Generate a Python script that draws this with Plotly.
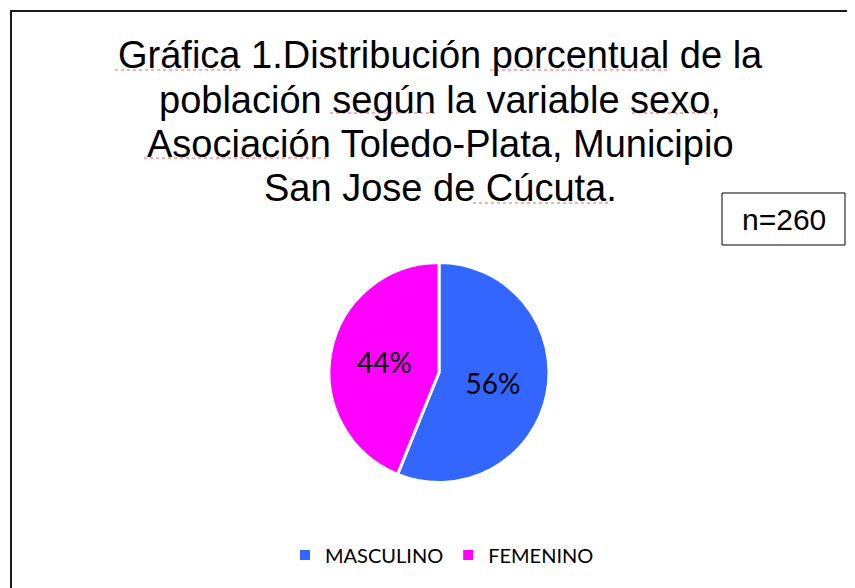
import plotly.graph_objects as go

# ---- data ----
categories = ["MASCULINO", "FEMENINO"]
counts = [146, 114]          # n = 260 -> 56% / 44%
colors = ["#3366FF", "#FF00FF"]
title_lines = [
    "Gráfica 1.Distribución porcentual de la",
    "población según la variable sexo,",
    "Asociación Toledo-Plata, Municipio",
    "San Jose de Cúcuta.",
]
n_label = "n=260"

# page is 855x588; the HTML body has an 8px margin, so the figure is 847x580
OFF = 8
W, H = 855 - OFF, 588 - OFF

def px_x(x):
    return (x - OFF) / W

def px_y(y):
    return 1 - (y - OFF) / H

fig = go.Figure()
fig.add_trace(go.Pie(
    labels=categories,
    values=counts,
    sort=False,
    direction="clockwise",
    rotation=0,
    marker=dict(colors=colors, line=dict(color="white", width=3)),
    textinfo="percent",
    texttemplate="%{percent:.0%}",
    textposition="inside",
    insidetextorientation="horizontal",
    textfont=dict(family="Lato, Open Sans, sans-serif", size=28, color="black"),
    domain=dict(x=[px_x(329), px_x(549)], y=[px_y(483), px_y(262)]),
    hoverinfo="label+percent",
))

annotations = []
line_centers = [55, 99.5, 144, 188.5]
for txt, yc in zip(title_lines, line_centers):
    annotations.append(dict(
        text=txt, x=px_x(440), y=px_y(yc), xref="paper", yref="paper",
        xanchor="center", yanchor="middle", showarrow=False,
        font=dict(family="Liberation Sans, Arial, sans-serif", size=38, color="black"),
    ))
annotations.append(dict(
    text=n_label, x=px_x(783.5), y=px_y(219), xref="paper", yref="paper",
    xanchor="center", yanchor="middle", showarrow=False,
    font=dict(family="Liberation Sans, Arial, sans-serif", size=30, color="black"),
))

shapes = [
    # outer frame (left and top edges visible)
    dict(type="rect", xref="paper", yref="paper",
         x0=px_x(11), x1=px_x(880), y0=px_y(620), y1=px_y(11),
         line=dict(color="#1a1a1a", width=2), fillcolor="rgba(0,0,0,0)"),
    # n box
    dict(type="rect", xref="paper", yref="paper",
         x0=px_x(722), x1=px_x(845), y0=px_y(245), y1=px_y(193),
         line=dict(color="black", width=1), fillcolor="white"),
]
# spell-check style red underlines
squiggles = [(115, 238, 70), (490, 668, 70), (330, 435, 113), (632, 712, 113),
             (144, 328, 158), (473, 608, 203)]
for x0, x1, y in squiggles:
    shapes.append(dict(type="line", xref="paper", yref="paper",
                       x0=px_x(x0), x1=px_x(x1), y0=px_y(y), y1=px_y(y),
                       line=dict(color="#ee6666", width=1.2, dash="dot")))

fig.update_layout(
    width=W, height=H,
    margin=dict(l=0, r=0, t=0, b=0),
    paper_bgcolor="white", plot_bgcolor="white",
    showlegend=True,
    legend=dict(orientation="h", x=px_x(442), xanchor="center", y=px_y(555), yanchor="middle",
                font=dict(family="Lato, Open Sans, sans-serif", size=20, color="black"),
                itemsizing="constant", traceorder="normal"),
    annotations=annotations,
    shapes=shapes,
)

fig.write_html("out.html")
